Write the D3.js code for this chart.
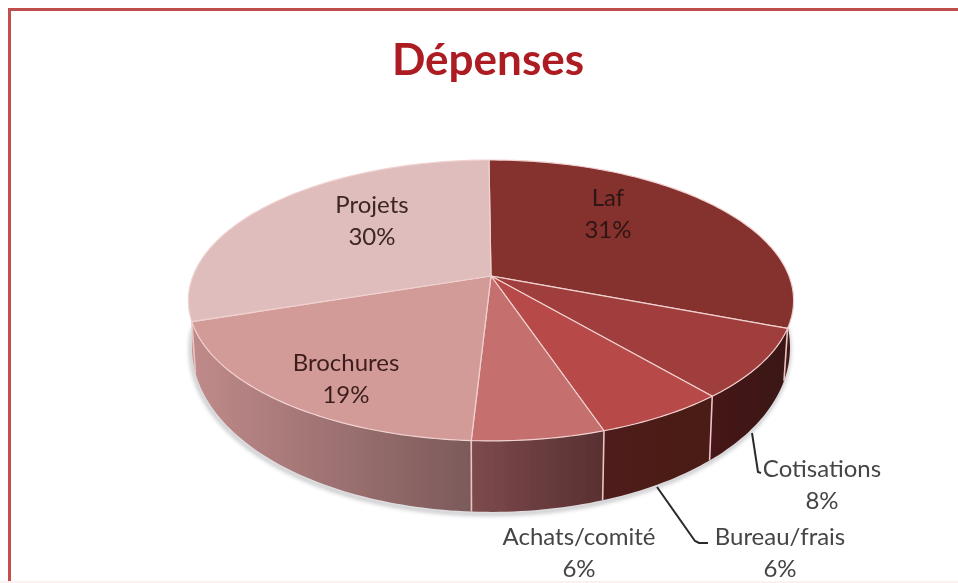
<!DOCTYPE html>
<html>
<head>
<meta charset="utf-8">
<script src="https://d3js.org/d3.v7.min.js"></script>
<style>
  body { margin: 0; background: #fff; }
  text { font-family: Lato, "Open Sans", sans-serif; }
</style>
</head>
<body>
<div id="chart-area"></div>
<script>
// values
var categories = ["Laf", "Cotisations", "Bureau/frais", "Achats/comité", "Brochures", "Projets"];
var percents = [31, 8, 6, 6, 19, 30];

var topColors = ["#85302f", "#a03e3c", "#b84a48", "#c56f6e", "#d29b98", "#e0bdbd"];
// wall gradient, left stop then right stop
var wallLeft = ["#4a1a18", "#47181a", "#4f1c1a", "#7d4a4e", "#c08a8a", "#c9a3a3"];
var wallRight = ["#3c1412", "#3a1412", "#4a1a18", "#58302f", "#7c5a5a", "#c08a8a"];

var width = 958, height = 583;

// label placement, same order as categories
var labelX = [608, 822, 780, 579, 346, 372];
var labelY = [206, 477, 545, 545, 371, 213];
var labelColor = ["#2e1412", "#454545", "#454545", "#454545", "#3d1f1f", "#3d2525"];

// tilted disc: a circle seen through a simple perspective
var cx = 491, apexY = 276, rimX = 298, rimY = 136.2, persp = 0.174;
function rim(a) {
    var u = Math.sin(a), v = -Math.cos(a), w = 1 - persp * v;
    return [cx + rimX * u / w, apexY + rimY * v / w];
}
// lower edge of the wall, deeper towards the viewer
function lowerRim(a) {
    var p = rim(a), v = -Math.cos(a);
    return [cx + (p[0] - cx) * 0.988, p[1] + 42 + 29 * v];
}
function sample(a0, a1, fn) {
    var n = Math.max(2, Math.ceil(Math.abs(a1 - a0) / 0.02)), pts = [];
    for (var i = 0; i <= n; i++) pts.push(fn(a0 + (a1 - a0) * i / n));
    return pts;
}

var svg = d3.select("#chart-area").append("svg")
    .attr("width", width)
    .attr("height", height)
    .style("display", "block");

var defs = svg.append("defs");
defs.append("filter").attr("id", "soft").append("feGaussianBlur").attr("stdDeviation", 0.5);
defs.append("filter").attr("id", "softText").append("feGaussianBlur").attr("stdDeviation", 0.35);
defs.append("filter").attr("id", "shadow")
    .attr("x", "-10%").attr("y", "-10%").attr("width", "120%").attr("height", "120%")
    .append("feGaussianBlur").attr("stdDeviation", 2);

// frame: top and left only, with faint edge at the bottom
var frame = svg.append("g").attr("filter", "url(#soft)");
frame.append("rect").attr("x", 8).attr("y", 8).attr("width", 950).attr("height", 3).attr("fill", "#bf4f4d");
frame.append("rect").attr("x", 8).attr("y", 8).attr("width", 3).attr("height", 575).attr("fill", "#c0504d");
svg.append("rect").attr("x", 0).attr("y", 581).attr("width", 958).attr("height", 2).attr("fill", "#fdf0f0");

svg.append("text")
    .attr("x", 488).attr("y", 75)
    .attr("text-anchor", "middle")
    .attr("font-size", 44)
    .attr("font-weight", 700)
    .attr("fill", "#ac1c20")
    .attr("filter", "url(#softText)")
    .text("Dépenses");

// turned a hair so the slice edges land where the picture has them
var turn = -0.008;
var arcs = d3.pie().sort(null).startAngle(turn).endAngle(2 * Math.PI + turn)(percents);
var line = d3.line();
var wallStart = 1.62, wallEnd = 4.66; // part of the rim that shows a wall

var pie = svg.append("g").attr("filter", "url(#soft)");

// shadow below the wall
pie.append("path")
    .attr("d", line(sample(wallStart, wallEnd, lowerRim).map(function(p) { return [p[0] - 1, p[1] + 2]; })))
    .attr("fill", "none")
    .attr("stroke", "#8e8f96")
    .attr("stroke-width", 3)
    .attr("opacity", 0.7)
    .attr("filter", "url(#shadow)");

// walls
arcs.forEach(function(d, i) {
    var a0 = Math.max(d.startAngle, wallStart), a1 = Math.min(d.endAngle, wallEnd);
    if (a1 <= a0) return;
    var upper = sample(a0, a1, rim), lower = sample(a1, a0, lowerRim);
    var gx = d3.extent(upper.concat(lower), function(p) { return p[0]; });
    var grad = defs.append("linearGradient")
        .attr("id", "wall" + i)
        .attr("gradientUnits", "userSpaceOnUse")
        .attr("x1", gx[0]).attr("x2", gx[1]).attr("y1", 0).attr("y2", 0);
    grad.append("stop").attr("offset", 0).attr("stop-color", wallLeft[i]);
    grad.append("stop").attr("offset", 1).attr("stop-color", wallRight[i]);
    pie.append("path")
        .attr("d", line(upper.concat(lower)) + "Z")
        .attr("fill", "url(#wall" + i + ")");
});

// vertical seams on the wall
arcs.forEach(function(d) {
    var a = d.startAngle;
    if (a <= wallStart || a >= wallEnd) return;
    pie.append("path")
        .attr("d", line([rim(a), lowerRim(a)]))
        .attr("stroke", "#e8c4c2")
        .attr("stroke-width", 1.6)
        .attr("fill", "none");
});

// top of the disc
arcs.forEach(function(d, i) {
    pie.append("path")
        .attr("d", line([[cx, apexY]].concat(sample(d.startAngle, d.endAngle, rim))) + "Z")
        .attr("fill", topColors[i])
        .attr("stroke", "#f0d2d0")
        .attr("stroke-width", 1.2)
        .attr("stroke-linejoin", "round");
});

// leader lines
var leaders = svg.append("g")
    .attr("fill", "none")
    .attr("stroke", "#2b2b2b")
    .attr("stroke-width", 2)
    .attr("filter", "url(#soft)");
leaders.append("path").attr("d", line([[752, 433], [758, 472], [761, 473]]));
leaders.append("path").attr("d", line([[657, 487], [695, 541], [699, 543], [708, 543]]));

// labels
var labels = svg.append("g")
    .attr("text-anchor", "middle")
    .attr("font-size", 24)
    .attr("filter", "url(#softText)");
categories.forEach(function(c, i) {
    var t = labels.append("text")
        .attr("x", labelX[i]).attr("y", labelY[i])
        .attr("fill", labelColor[i]);
    t.append("tspan").attr("x", labelX[i]).text(c);
    t.append("tspan").attr("x", labelX[i]).attr("dy", 32).text(percents[i] + "%");
});
</script>
</body>
</html>
